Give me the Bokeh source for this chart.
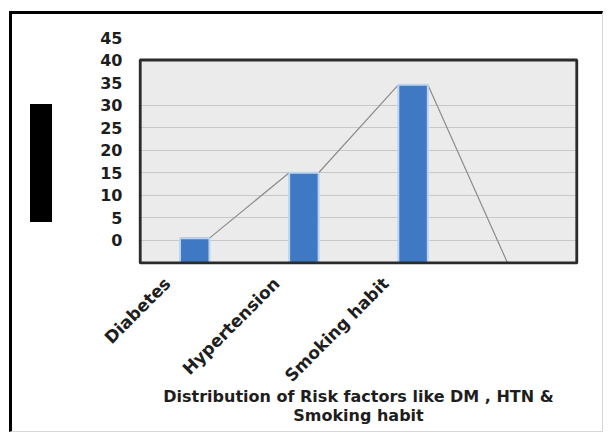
import numpy as np
from bokeh.plotting import figure
from bokeh.models import Range1d, FixedTicker, Div
from bokeh.layouts import row
from bokeh.embed import file_html
from bokeh.resources import INLINE

# ---- data ----
categories = ["Diabetes", "Hypertension", "Smoking habit"]
n_slots = 4                      # the category axis has a 4th, unlabeled slot
bar_values = [0.5, 15, 34.5]
line_end_value = -5              # the line drops to the axis floor in the 4th slot
y_tick_values = [0, 5, 10, 15, 20, 25, 30, 35, 40, 45]
y_axis_floor = -5
box_top = 40
gridline_values = [0, 5, 10, 15, 20, 25, 30]
axis_title = "Distribution of Risk factors like DM , HTN &\nSmoking habit"

# ---- styling constants ----
BAR_W = 0.27
LABEL_SHIFT = 0.25
PAD_X = 0.015
PAD_Y = 0.35
FONT = "DejaVu Sans"
TXT = "#1e1e1e"

centers = np.arange(n_slots) + 0.5

p = figure(width=512, height=417,
           x_range=Range1d(-PAD_X, n_slots + PAD_X),
           y_range=Range1d(y_axis_floor - PAD_Y, y_tick_values[-1]),
           output_backend="svg", toolbar_location=None,
           min_border_left=48, min_border_right=24,
           min_border_top=23, min_border_bottom=167)
p.outline_line_color = None
p.background_fill_color = "white"
p.border_fill_color = "white"

# plot box fill (below the grid)
box = p.quad(left=0, right=n_slots, bottom=y_axis_floor, top=box_top,
             fill_color="#ebebeb", line_color=None)
box.level = "image"

# connecting line through the bar-top corners
lx, ly = [], []
for c, v in zip(centers, bar_values):
    lx += [c - BAR_W / 2, c + BAR_W / 2]
    ly += [v, v]
lx.append(centers[len(categories)] - BAR_W / 2)
ly.append(line_end_value)
p.line(lx, ly, line_color="#8c8c8c", line_width=1.2)

p.vbar(x=centers[:len(categories)], top=bar_values, bottom=y_axis_floor,
       width=BAR_W, fill_color="#3f78c3", line_color="#bcd3ef", line_width=2)

# plot box border
p.quad(left=0, right=n_slots, bottom=y_axis_floor, top=box_top,
       fill_color=None, line_color="#2b2b2b", line_width=3)

# grid
p.xgrid.visible = False
p.ygrid.ticker = FixedTicker(ticks=gridline_values)
p.ygrid.grid_line_color = "#c8c8c8"
p.ygrid.grid_line_width = 1

# y axis
p.yaxis.ticker = FixedTicker(ticks=y_tick_values)
p.yaxis.axis_line_color = None
p.yaxis.major_tick_line_color = None
p.yaxis.minor_tick_line_color = None
p.yaxis.major_label_standoff = 10
p.yaxis.major_label_text_font = FONT
p.yaxis.major_label_text_font_style = "bold"
p.yaxis.major_label_text_font_size = "16px"
p.yaxis.major_label_text_color = TXT

# x axis
xt = [float(c - LABEL_SHIFT) for c in centers[:len(categories)]]
p.xaxis.ticker = FixedTicker(ticks=xt)
p.xaxis.major_label_overrides = {t: name for t, name in zip(xt, categories)}
p.xaxis.major_label_orientation = np.pi / 4
p.xaxis.axis_line_color = None
p.xaxis.major_tick_line_color = None
p.xaxis.minor_tick_line_color = None
p.xaxis.major_label_standoff = 10
p.xaxis.major_label_text_font = FONT
p.xaxis.major_label_text_font_style = "bold"
p.xaxis.major_label_text_font_size = "17px"
p.xaxis.major_label_text_color = TXT
p.xaxis.axis_label = axis_title
p.xaxis.axis_label_standoff = -9
p.xaxis.axis_label_text_font = FONT
p.xaxis.axis_label_text_font_style = "bold"
p.xaxis.axis_label_text_font_size = "16px"
p.xaxis.axis_label_text_line_height = 1.0
p.xaxis.axis_label_text_color = TXT

# black block at the left of the page
block = Div(width=22, height=118, margin=(90, 38, 0, 18),
            styles={"background-color": "black"})

layout = row(block, p, styles={
    "margin-top": "11px", "margin-left": "9px",
    "border-top": "3px solid black", "border-left": "3px solid black",
    "border-right": "1px solid #d8d8d8", "border-bottom": "1px solid #d8d8d8",
})

open("out.html", "w").write(file_html(layout, INLINE))
